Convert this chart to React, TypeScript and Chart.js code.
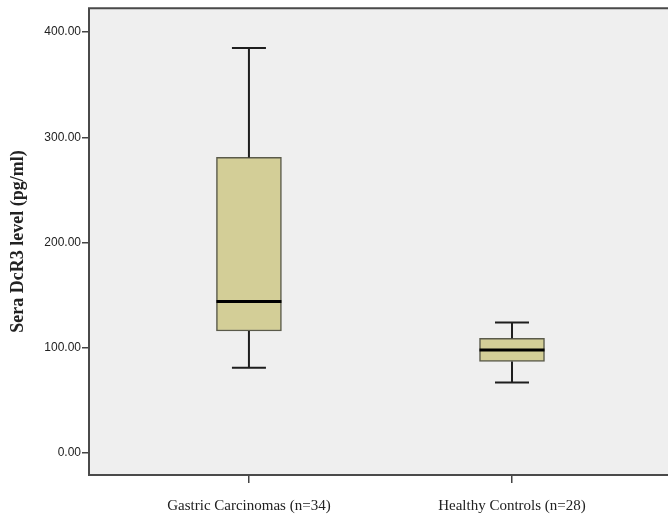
import React, { useEffect, useRef } from "react";
import { Chart, registerables } from "chart.js";

Chart.register(...registerables);

const categories = ["Gastric Carcinomas (n=34)", "Healthy Controls (n=28)"];
const whiskerMin = [81, 67];
const q1 = [116, 87];
const median = [144, 98];
const q3 = [281, 109];
const whiskerMax = [385, 124];
const yTicks = [0, 100, 200, 300, 400];

const boxPlugin = {
  id: "boxplotExtras",
  beforeDraw(chart: any) {
    const { ctx, chartArea } = chart;
    const { left, top, right, bottom } = chartArea;
    ctx.save();
    ctx.fillStyle = "#efefef";
    ctx.fillRect(left, top, right - left, bottom - top);
    ctx.restore();
  },
  afterDatasetsDraw(chart: any) {
    const { ctx, chartArea, scales } = chart;
    const xs = scales.x;
    const ys = scales.y;
    ctx.save();
    categories.forEach((_, i) => {
      const cx = xs.getPixelForValue(i);
      const capHalf = 17;
      const boxHalf = 32.5;
      ctx.strokeStyle = "#1e1e1e";
      ctx.lineWidth = 2;
      ctx.beginPath();
      ctx.moveTo(cx, ys.getPixelForValue(q3[i]));
      ctx.lineTo(cx, ys.getPixelForValue(whiskerMax[i]));
      ctx.moveTo(cx, ys.getPixelForValue(q1[i]));
      ctx.lineTo(cx, ys.getPixelForValue(whiskerMin[i]));
      ctx.stroke();
      ctx.beginPath();
      const yMax = ys.getPixelForValue(whiskerMax[i]);
      const yMin = ys.getPixelForValue(whiskerMin[i]);
      ctx.moveTo(cx - capHalf, yMax);
      ctx.lineTo(cx + capHalf, yMax);
      ctx.moveTo(cx - capHalf, yMin);
      ctx.lineTo(cx + capHalf, yMin);
      ctx.stroke();
      ctx.strokeStyle = "#000";
      ctx.lineWidth = 3;
      ctx.beginPath();
      const yMed = ys.getPixelForValue(median[i]);
      ctx.moveTo(cx - boxHalf, yMed);
      ctx.lineTo(cx + boxHalf, yMed);
      ctx.stroke();
    });
    const { left, top, right, bottom } = chartArea;
    ctx.strokeStyle = "#4a4a4a";
    ctx.lineWidth = 2;
    ctx.beginPath();
    ctx.moveTo(right + 2, top);
    ctx.lineTo(left, top);
    ctx.lineTo(left, bottom);
    ctx.lineTo(right + 2, bottom);
    ctx.stroke();
    ctx.restore();
  },
};

export default function App() {
  const ref = useRef<HTMLCanvasElement>(null);
  useEffect(() => {
    if (!ref.current) return;
    const chart = new Chart(ref.current, {
      type: "bar",
      data: {
        datasets: [
          {
            data: categories.map((_, i) => ({ x: i, y: [q1[i], q3[i]] })) as any,
            backgroundColor: "#d3ce97",
            borderColor: "#5a5a4a",
            borderWidth: 1.5,
            borderSkipped: false,
            barThickness: 65,
          },
        ],
      },
      options: {
        responsive: false,
        animation: false,
        layout: { padding: { top: 8, left: 0, right: 0, bottom: 0 } },
        plugins: { legend: { display: false }, tooltip: { enabled: false } },
        scales: {
          x: {
            type: "linear",
            min: -0.608,
            max: 1.593,
            offset: false,
            afterBuildTicks: (scale: any) => {
              scale.ticks = categories.map((_, i) => ({ value: i }));
            },
            afterFit: (scale: any) => {
              scale.height = 47;
            },
            grid: {
              offset: false,
              drawOnChartArea: false,
              drawTicks: true,
              tickLength: 8,
              color: "#444",
              lineWidth: 1.5,
            },
            border: { display: false },
            ticks: {
              padding: 14,
              color: "#222",
              font: { family: "Liberation Serif", size: 15 },
              maxRotation: 0,
              autoSkip: false,
              callback: (v: any) => categories[v] ?? "",
            },
          },
          y: {
            type: "linear",
            min: -20.9,
            max: 422.8,
            afterBuildTicks: (scale: any) => {
              scale.ticks = yTicks.map((v) => ({ value: v }));
            },
            afterFit: (scale: any) => {
              scale.width = 89;
            },
            grid: {
              drawOnChartArea: false,
              drawTicks: true,
              tickLength: 7,
              color: "#444",
              lineWidth: 1.5,
            },
            border: { display: false },
            ticks: {
              padding: 1,
              color: "#222",
              font: { family: "Liberation Sans", size: 12 },
              callback: (v: any) => Number(v).toFixed(2),
            },
            title: {
              display: true,
              text: "Sera DcR3 level (pg/ml)",
              color: "#222",
              font: { family: "Liberation Serif", size: 18, weight: "bold" },
              padding: { top: 8, bottom: 0 },
            },
          },
        },
      },
      plugins: [boxPlugin],
    });
    return () => chart.destroy();
  }, []);
  return (
    <div style={{ position: "absolute", left: 0, top: 0, width: 668, height: 522, background: "#fff" }}>
      <canvas ref={ref} width={668} height={522} />
    </div>
  );
}
